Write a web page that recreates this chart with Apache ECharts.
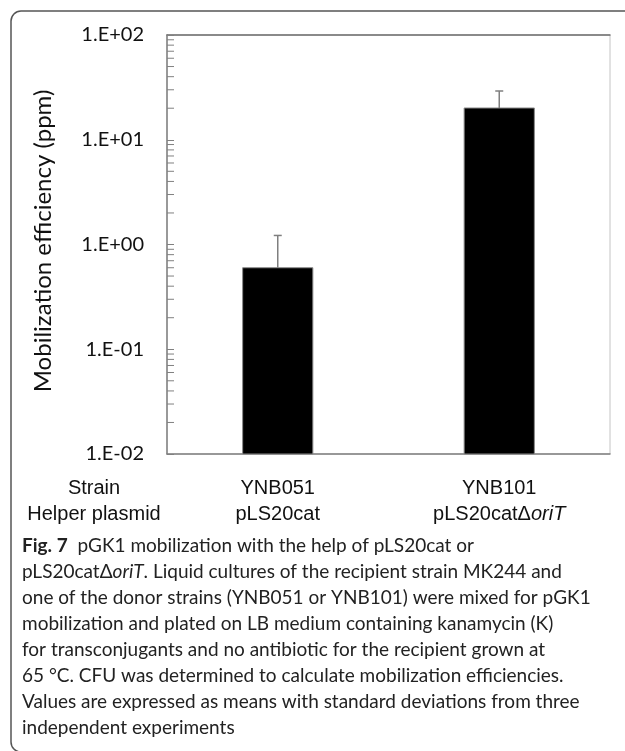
<!DOCTYPE html>
<html>
<head>
<meta charset="utf-8">
<script src="https://cdn.jsdelivr.net/npm/echarts@6/dist/echarts.min.js"></script>
<style>
html,body{margin:0;padding:0;background:#fff;}
#chart{width:625px;height:751px;}
</style>
</head>
<body>
<div id="chart"></div>
<script>
// ---- data ----
var strains = ['YNB051', 'YNB101'];
var helperPlasmids = ['pLS20cat', 'pLS20catΔoriT'];
var meanEfficiency = [0.60, 20.1];      // ppm
var sdUpper = [1.22, 29.2];             // mean + SD (ppm)
var yTickValues = [0.01, 0.1, 1, 10, 100];
var yTickLabels = ['1.E-02', '1.E-01', '1.E+00', '1.E+01', '1.E+02'];
var yMinorTicks = [0.02,0.03,0.04,0.05,0.06,0.07,0.08,0.09,
                   0.2,0.3,0.4,0.5,0.6,0.7,0.8,0.9,
                   2,3,4,5,6,7,8,9,
                   20,30,40,50,60,70,80,90];
var yAxisTitle = 'Mobilization efficiency (ppm)';
var rowHeaders = ['Strain', 'Helper plasmid'];
var captionLines = [
  [{b:'Fig. 7'}, {t:'  pGK1 mobilization with the help of pLS20cat or'}],
  [{t:'pLS20catΔ'}, {i:'oriT'}, {t:'. Liquid cultures of the recipient strain MK244 and'}],
  [{t:'one of the donor strains (YNB051 or YNB101) were mixed for pGK1'}],
  [{t:'mobilization and plated on LB medium containing kanamycin (K)'}],
  [{t:'for transconjugants and no antibiotic for the recipient grown at'}],
  [{t:'65 °C. CFU was determined to calculate mobilization efficiencies.'}],
  [{t:'Values are expressed as means with standard deviations from three'}],
  [{t:'independent experiments'}]
];

// ---- chart ----
var chart = echarts.init(document.getElementById('chart'), null, {renderer:'canvas'});
var GRID = {left:167, right:15, top:35, bottom:297};
var capFont = 'Lato, "Open Sans", sans-serif';
var catFont = '"Liberation Sans", Arial, sans-serif';
var Y_MIN = yTickValues[0], Y_MAX = yTickValues[yTickValues.length-1];

function captionText(parts){
  return parts.map(function(p){
    if (p.b) return '{b|' + p.b + '}';
    if (p.i) return '{i|' + p.i + '}';
    return '{t|' + p.t + '}';
  }).join('');
}

var graphics = [
  {type:'rect', shape:{x:11, y:11, width:700, height:741, r:10},
   style:{fill:'none', stroke:'#555', lineWidth:1.5}, silent:true},
  {type:'text', x:43, y:241, rotation:Math.PI/2, style:{text:yAxisTitle, font:'24px Lato, sans-serif', fill:'#111', textAlign:'center', textVerticalAlign:'middle'}},
  {type:'text', x:94, y:488, style:{text:rowHeaders[0], font:'20px ' + catFont, fill:'#111', textAlign:'center', textVerticalAlign:'middle'}},
  {type:'text', x:94, y:514, style:{text:rowHeaders[1], font:'20px ' + catFont, fill:'#111', textAlign:'center', textVerticalAlign:'middle'}}
];
captionLines.forEach(function(parts, k){
  graphics.push({type:'text', x:22, y:546 + k*26, style:{
    text: captionText(parts), textVerticalAlign:'middle', textAlign:'left',
    rich:{
      t:{fontFamily:capFont, fontSize:19, fill:'#222'},
      i:{fontFamily:capFont, fontSize:19, fontStyle:'italic', fill:'#222'},
      b:{fontFamily:capFont, fontSize:19, fontWeight:'bold', fill:'#222'}
    }
  }});
});

var option = {
  animation:false,
  backgroundColor:'#fff',
  grid:{left:GRID.left, right:GRID.right, top:GRID.top, bottom:GRID.bottom, show:true, borderColor:'#c4c4c4', borderWidth:1, backgroundColor:'transparent'},
  xAxis:[{
    type:'category', data:strains,
    axisLine:{lineStyle:{color:'#808080', width:1.5}},
    axisTick:{show:false},
    axisLabel:{
      margin:21, interval:0,
      formatter:function(v, i){
        var hp = helperPlasmids[i];
        var m = hp.indexOf('Δ');
        var second = m >= 0 ? '{a|' + hp.slice(0, m+1) + '}{i|' + hp.slice(m+1) + '}' : '{a|' + hp + '}';
        return '{a|' + v + '}\n' + second;
      },
      rich:{
        a:{fontFamily:catFont, fontSize:20, color:'#111', lineHeight:26},
        i:{fontFamily:catFont, fontSize:20, fontStyle:'italic', color:'#111', lineHeight:26}
      }
    }
  },{
    type:'category', data:strains, position:'top',
    axisLine:{show:true, lineStyle:{color:'#6e6e6e', width:1.5}},
    axisTick:{show:false}, axisLabel:{show:false}
  }],
  yAxis:{
    type:'log', logBase:10, min:Y_MIN, max:Y_MAX,
    axisLine:{show:true, lineStyle:{color:'#808080', width:1.5}},
    axisTick:{show:true, inside:true, length:7, lineStyle:{color:'#808080'}},
    splitLine:{show:false},
    axisLabel:{
      margin:23, fontFamily:'Lato, sans-serif', fontSize:20, color:'#111',
      formatter:function(v){
        var e = Math.round(Math.log10(v));
        var idx = yTickValues.map(function(t){return Math.round(Math.log10(t));}).indexOf(e);
        return idx >= 0 ? yTickLabels[idx] : '';
      }
    }
  },
  series:[
    {
      // bars drawn from the axis floor up to the mean (log axis)
      type:'custom',
      data: meanEfficiency.map(function(m, i){ return [i, m]; }),
      renderItem:function(params, api){
        var i = api.value(0);
        var top = api.coord([i, api.value(1)]);
        var base = api.coord([i, Y_MIN]);
        var w = api.size([1, 0])[0] * 0.317;
        return {type:'rect', shape:{x:top[0]-w/2, y:top[1], width:w, height:base[1]-top[1]},
                style:{fill:'#000', stroke:'#8a8a8a', lineWidth:1}};
      },
      encode:{x:0, y:1},
      z:2
    },
    {
      type:'custom',
      data: meanEfficiency.map(function(m, i){ return [i, m, sdUpper[i]]; }),
      renderItem:function(params, api){
        var i = api.value(0);
        var p0 = api.coord([i, api.value(1)]);
        var p1 = api.coord([i, api.value(2)]);
        return {type:'group', children:[
          {type:'line', shape:{x1:p0[0], y1:p0[1], x2:p1[0], y2:p1[1]}, style:{stroke:'#7f7f7f', lineWidth:1.5}},
          {type:'line', shape:{x1:p1[0]-4, y1:p1[1], x2:p1[0]+4, y2:p1[1]}, style:{stroke:'#7f7f7f', lineWidth:1.5}}
        ]};
      },
      encode:{x:0, y:2},
      z:3
    },
    {
      type:'custom',
      data: yMinorTicks.map(function(v){ return [0, v]; }),
      renderItem:function(params, api){
        var y = api.coord([0, api.value(1)])[1];
        var x0 = params.coordSys.x;
        return {type:'line', shape:{x1:x0, y1:y, x2:x0+7, y2:y}, style:{stroke:'#808080', lineWidth:1}};
      },
      encode:{x:0, y:1},
      silent:true, z:4
    }
  ],
  graphic: graphics
};
chart.setOption(option);
</script>
</body>
</html>
